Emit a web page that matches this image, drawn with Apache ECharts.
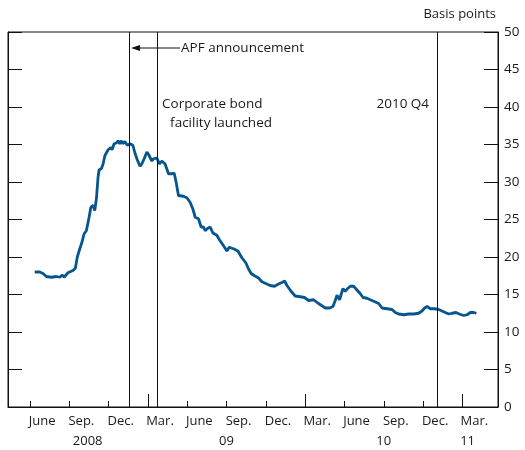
<!DOCTYPE html>
<html>
<head>
<meta charset="utf-8">
<script src="https://cdn.jsdelivr.net/npm/echarts@6/dist/echarts.min.js"></script>
<style>
html, body { margin: 0; padding: 0; background: #fff; }
#chart { width: 525px; height: 450px; }
</style>
</head>
<body>
<div id="chart"></div>
<script>
// x values are months counted from Jan 2008 (Jan 2008 = 0)
const months = [
  5.36, 5.74, 5.99, 6.25, 6.63, 7.01, 7.27, 7.47, 7.60, 7.90, 8.28, 8.46, 8.61, 8.80, 8.97,
  9.13, 9.30, 9.51, 9.64, 9.81, 9.94, 10.07, 10.19, 10.27, 10.45, 10.58, 10.71, 10.96, 11.17,
  11.26, 11.42, 11.59, 11.72, 11.85, 11.97, 12.08, 12.23, 12.43, 12.64, 12.85, 13.02, 13.20,
  13.40, 13.53, 13.71, 13.92, 14.04, 14.30, 14.42, 14.55, 14.68, 14.88, 15.06, 15.31, 15.57,
  15.83, 16.00, 16.15, 16.33, 16.71, 16.97, 17.22, 17.43, 17.61, 17.86, 18.06, 18.24, 18.37,
  18.54, 18.75, 18.96, 19.26, 19.46, 19.77, 20.03, 20.20, 20.53, 20.87, 21.17, 21.48, 21.68,
  21.88, 22.14, 22.44, 22.70, 23.08, 23.33, 23.66, 23.97, 24.23, 24.43, 24.61, 24.94, 25.24,
  25.63, 25.95, 26.26, 26.64, 27.02, 27.28, 27.54, 27.87, 28.12, 28.30, 28.43, 28.63, 28.76,
  28.89, 29.06, 29.24, 29.45, 29.70, 29.96, 30.21, 30.42, 30.72, 30.97, 31.36, 31.61, 31.87,
  32.25, 32.63, 32.88, 33.14, 33.52, 33.90, 34.28, 34.66, 34.92, 35.12, 35.31, 35.56, 35.89,
  36.19, 36.45, 36.70, 36.96, 37.22, 37.52, 37.77, 38.10, 38.36, 38.61, 38.87, 39.07
];
const spread = [
  18.0, 18.0, 17.8, 17.4, 17.3, 17.4, 17.3, 17.6, 17.3, 17.9, 18.2, 18.5, 20.0, 21.1, 22.0,
  23.1, 23.5, 25.3, 26.6, 26.9, 26.2, 27.8, 30.6, 31.6, 31.8, 32.4, 33.5, 34.3, 34.6,
  34.3, 35.1, 35.2, 35.5, 35.1, 35.5, 35.1, 35.4, 34.9, 35.1, 34.9, 33.8, 32.9,
  32.1, 32.4, 33.1, 34.0, 33.7, 32.8, 33.1, 32.9, 33.2, 32.4, 32.8, 32.4, 31.1,
  31.1, 31.2, 30.0, 28.2, 28.1, 27.9, 27.3, 26.4, 25.3, 25.1, 24.0, 24.0, 23.5,
  23.8, 24.0, 23.2, 22.9, 22.3, 21.5, 20.8, 21.3, 21.1, 20.8, 19.9, 19.2, 18.4,
  17.8, 17.5, 17.2, 16.7, 16.4, 16.2, 16.1, 16.4, 16.6, 16.8, 16.2, 15.4, 14.8,
  14.7, 14.6, 14.2, 14.3, 13.8, 13.5, 13.2, 13.2, 13.4, 14.2, 14.9, 14.3, 15.1,
  15.8, 15.4, 15.8, 16.1, 16.1, 15.6, 15.1, 14.6, 14.5, 14.3, 14.0, 13.8, 13.2,
  13.1, 13.0, 12.6, 12.4, 12.3, 12.4, 12.4, 12.5, 12.8, 13.2, 13.4, 13.1, 13.1,
  13.0, 12.8, 12.6, 12.4, 12.5, 12.6, 12.4, 12.2, 12.3, 12.6, 12.6, 12.5
];

const tickMonths = [5, 8, 11, 14, 17, 20, 23, 26, 29, 32, 35, 38];
const monthNames = ['June', 'Sep.', 'Dec.', 'Mar.', 'June', 'Sep.', 'Dec.', 'Mar.', 'June', 'Sep.', 'Dec.', 'Mar.'];
const yearTicks = [14, 26, 38];
const yearNames = ['2008', '09', '10', '11'];
const yearLabelAt = [9.4, 20, 32, 38.4];

// vertical event lines
const apfDate = 12.56;
const cbfDate = 14.7;
const q4Date = 36.07;

const FONT = '"Open Sans", sans-serif';
const INK = '#1a1a1a';
const LINE_BLUE = '#06568e';

const labelMonths = tickMonths.map(m => m + 0.92);
const seriesData = months.map((m, i) => [m, spread[i]]);

const chart = echarts.init(document.getElementById('chart'), null, { renderer: 'canvas' });

const baseX = {
  type: 'value',
  min: 3.32,
  max: 40.72,
  position: 'bottom',
  splitLine: { show: false }
};

const option = {
  animation: false,
  backgroundColor: '#fff',
  grid: {
    left: 8, right: 27, top: 32, bottom: 43,
    show: true, borderColor: '#111', borderWidth: 1, backgroundColor: 'transparent'
  },
  xAxis: [
    Object.assign({}, baseX, {
      axisLine: { show: true, lineStyle: { color: '#111', width: 1 } },
      axisTick: { show: true, inside: true, length: 6, customValues: tickMonths, lineStyle: { color: '#111' } },
      axisLabel: {
        customValues: labelMonths,
        margin: 8,
        fontFamily: FONT, fontSize: 13, color: INK,
        formatter: v => monthNames[Math.round((v - labelMonths[0]) / 3)]
      }
    }),
    Object.assign({}, baseX, {
      axisLine: { show: false },
      axisTick: { show: true, inside: true, length: 13, customValues: yearTicks, lineStyle: { color: '#111' } },
      axisLabel: {
        customValues: yearLabelAt,
        margin: 28,
        fontFamily: FONT, fontSize: 13, color: INK,
        formatter: v => yearNames[yearLabelAt.indexOf(v)]
      }
    })
  ],
  yAxis: [
    {
      type: 'value', position: 'right', min: 0, max: 50, interval: 5,
      axisLine: { show: true, lineStyle: { color: '#111' } },
      axisTick: { show: true, inside: true, length: 14, lineStyle: { color: '#111' } },
      axisLabel: { margin: 6, fontFamily: FONT, fontSize: 13.5, color: INK },
      splitLine: { show: false }
    },
    {
      type: 'value', position: 'left', min: 0, max: 50, interval: 5,
      axisLine: { show: true, lineStyle: { color: '#111' } },
      axisTick: { show: true, inside: true, length: 14, lineStyle: { color: '#111' } },
      axisLabel: { show: false },
      splitLine: { show: false }
    }
  ],
  series: [
    {
      type: 'line',
      xAxisIndex: 0,
      yAxisIndex: 0,
      data: seriesData,
      showSymbol: false,
      lineStyle: { color: LINE_BLUE, width: 2.8 },
      markLine: {
        silent: true,
        symbol: 'none',
        label: { show: false },
        lineStyle: { color: '#111', width: 1, type: 'solid' },
        data: [{ xAxis: apfDate }, { xAxis: cbfDate }, { xAxis: q4Date }]
      },
      z: 3
    }
  ]
};

chart.setOption(option);

// annotation texts placed next to the event lines
const apfX = chart.convertToPixel({ xAxisIndex: 0 }, apfDate);
const cbfX = chart.convertToPixel({ xAxisIndex: 0 }, cbfDate);
const q4X = chart.convertToPixel({ xAxisIndex: 0 }, q4Date);
const arrowY = 48;
const textStyle = { font: '13.5px ' + FONT, fill: INK, textVerticalAlign: 'middle' };

chart.setOption({
  graphic: [
    {
      type: 'text', right: 29, top: 8,
      style: { text: 'Basis points', font: '13px ' + FONT, fill: INK }
    },
    {
      type: 'line', z: 10,
      shape: { x1: apfX + 10, y1: arrowY, x2: apfX + 51, y2: arrowY },
      style: { stroke: '#111', lineWidth: 1 }
    },
    {
      type: 'polygon', z: 10,
      shape: { points: [[apfX + 2, arrowY], [apfX + 11, arrowY - 3], [apfX + 11, arrowY + 3]] },
      style: { fill: '#111' }
    },
    {
      type: 'text', x: apfX + 52, y: arrowY,
      style: Object.assign({ text: 'APF announcement' }, textStyle)
    },
    {
      type: 'text', x: cbfX + 5, y: 104,
      style: Object.assign({ text: 'Corporate bond' }, textStyle)
    },
    {
      type: 'text', x: cbfX + 13, y: 123,
      style: Object.assign({ text: 'facility launched' }, textStyle)
    },
    {
      type: 'text', x: q4X - 8, y: 104,
      style: Object.assign({ text: '2010 Q4', textAlign: 'right' }, textStyle)
    }
  ]
});
</script>
</body>
</html>
